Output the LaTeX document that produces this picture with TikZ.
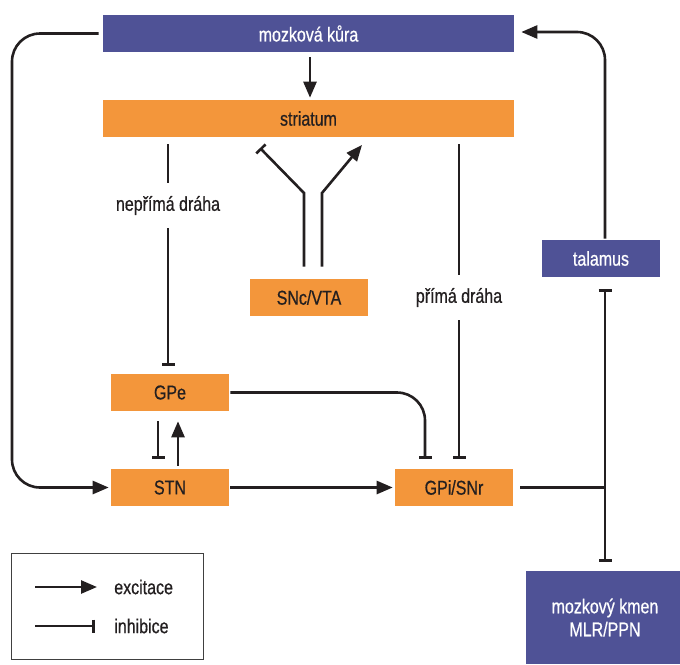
\documentclass[tikz,border=0pt]{standalone}
\usepackage{fontspec}
\setmainfont[FakeStretch=0.8,FakeBold=0.6]{Liberation Sans}
\usetikzlibrary{arrows.meta,calc}
\definecolor{fialova}{RGB}{79,82,150}
\definecolor{oranzova}{RGB}{243,150,59}
\definecolor{inkoust}{RGB}{35,31,32}

\begin{document}
\begin{tikzpicture}[x=1pt, y=-1pt, line width=2.6pt, draw=inkoust,
  blok/.style={inner sep=0pt, font=\fontsize{20}{23}\selectfont},
  fblok/.style={blok, fill=fialova, text=white},
  oblok/.style={blok, fill=oranzova, text=inkoust, minimum width=118pt, minimum height=37pt},
  exc/.style={-{Triangle[length=16pt,width=13pt]}},
  inh/.style={-{Bar[width=13pt]}},
  stitek/.style={fill=white, inner xsep=2pt, inner ysep=12pt, text=inkoust, font=\fontsize{20}{23}\selectfont}]

  %% ════ bloky ════
  \node[fblok, minimum width=411pt, minimum height=37pt] (kura) at (308.5,33.5) {mozková kůra};
  \node[oblok, minimum width=411pt] (striatum) at (308.5,118.5) {striatum};
  \node[oblok] (snc) at (309,297.5) {SNc/VTA};
  \node[oblok] (gpe) at (170,392.5) {GPe};
  \node[oblok] (stn) at (170,487.5) {STN};
  \node[oblok] (gpi) at (454,487.5) {GPi/SNr};
  \node[fblok, minimum width=118pt, minimum height=37pt] (talamus) at (601,258.5) {talamus};
  \node[fblok, minimum width=158pt, minimum height=93pt, align=center] (kmen) at (605,617.5) {mozkový kmen\\MLR/PPN};

  %% ════ pomocné body ════
  \coordinate (levy) at (12,0);
  \coordinate (uzel) at (605,487.5);
  \coordinate (ohybL) at (304,193);
  \coordinate (ohybP) at (322,193);
  \coordinate (cilL) at (260,148);
  \coordinate (cilP) at (362,145);

  %% ════ dráhy ════
  \draw[exc] ($(kura.south)+(1.5,4)$) -- ($(striatum.north)+(1.5,-1)$);

  % nepřímá dráha
  \node[stitek] (neprima) at (168,205.5) {nepřímá dráha};
  \draw ($(striatum.south -| neprima)+(0,6)$) -- (neprima.north);
  \draw[inh] (neprima.south) -- ($(gpe.north -| neprima)+(0,-7)$);

  % přímá dráha
  \node[stitek] (prima) at (459,297.5) {přímá dráha};
  \draw ($(striatum.south -| prima)+(0,6)$) -- (prima.north);
  \draw[inh] (prima.south) -- ($(gpi.north -| prima)+(0,-9)$);

  % SNc/VTA
  \draw[inh] ($(snc.north -| ohybL)+(0,-11)$) -- (ohybL) -- (cilL);
  \draw[exc] ($(snc.north -| ohybP)+(0,-11)$) -- (ohybP) -- (cilP);

  % GPe, STN, GPi
  \draw[inh, rounded corners=28pt] (gpe.east) -| ($(gpi.north)+(-29,-9)$);
  \draw[inh] ($(gpe.south)+(-12,9)$) -- ($(stn.north)+(-12,-9)$);
  \draw[exc] ($(stn.north)+(8,-2)$) -- ($(gpe.south)+(8,9)$);
  \draw[exc] (stn.east) -- ($(gpi.west)+(-1,0)$);

  % výstup GPi/SNr
  \draw ($(gpi.east)+(6,0)$) -- (uzel);
  \draw[inh] (uzel) -- ($(talamus.south -| uzel)+(0,11)$);
  \draw[inh] (uzel) -- ($(kmen.north -| uzel)+(0,-8)$);

  % smyčky
  \draw[exc, rounded corners=28pt] (talamus.north -| uzel) |- ($(kura.east)+(6,-1.5)$);
  \draw[exc, rounded corners=28pt] ($(kura.west)+(-3,0)$) -- (kura.west -| levy) -- (stn.west -| levy) -- ($(stn.west)+(-1,0)$);

  %% ════ legenda ════
  \node[draw=black!75, line width=1pt, minimum width=192pt, minimum height=106pt, inner sep=0pt] (legenda) at (107,606) {};
  \coordinate (excA) at (35,587);
  \coordinate (inhA) at (35,626);
  \node[anchor=west, blok, text=inkoust] (excT) at (113,587) {excitace};
  \node[anchor=west, blok, text=inkoust] (inhT) at (113,626) {inhibice};
  \draw[exc] (excA) -- ($(excT.west)+(-16,0)$);
  \draw[inh] (inhA) -- ($(inhT.west)+(-18,0)$);

  \pgfresetboundingbox
  \path[use as bounding box] (0,0) rectangle (680,664);
\end{tikzpicture}
\end{document}
